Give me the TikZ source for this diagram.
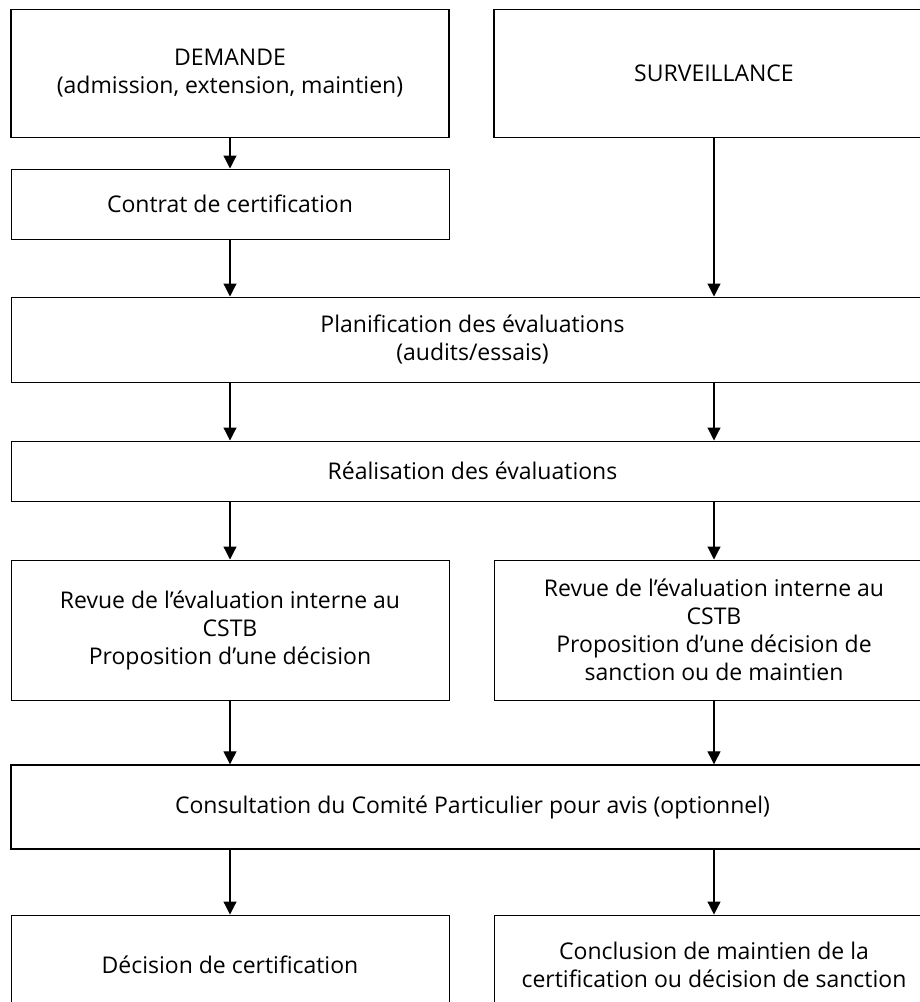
\documentclass[tikz,border=0pt]{standalone}
\usepackage{fontspec}
\setmainfont{Open Sans}
\usetikzlibrary{arrows.meta}
\begin{document}
\begin{tikzpicture}[x=1pt,y=-1pt,
  box/.style={draw, line width=1pt, rectangle, align=center, inner sep=0pt,
    font=\fontsize{23}{28}\selectfont},
  topbox/.style={box, line width=1.4pt},
  arr/.style={-{Triangle[width=13pt,length=13pt]}, line width=1.2pt}]
\useasboundingbox (0,0) rectangle (920,1002);
\clip (0,0) rectangle (920,1002);
\node[topbox, minimum width=438pt, minimum height=128pt] (dem) at (230,73.2) {DEMANDE\\(admission, extension, maintien)};
\node[topbox, minimum width=440pt, minimum height=128pt] (surv) at (714,73.2) {SURVEILLANCE};
\node[box, minimum width=438pt, minimum height=70pt] (contrat) at (230,204) {Contrat de certification};
\node[box, minimum width=923pt, minimum height=85pt] (planif) at (472.5,339.5) {Planification des évaluations\\(audits/essais)};
\node[box, minimum width=923pt, minimum height=60pt] (real) at (472.5,471) {Réalisation des évaluations};
\node[box, minimum width=438pt, minimum height=140pt] (revl) at (230,630) {Revue de l’évaluation interne au\\CSTB\\Proposition d’une décision};
\node[box, minimum width=440pt, minimum height=140pt] (revr) at (714,630) {Revue de l’évaluation interne au\\CSTB\\Proposition d’une décision de\\sanction ou de maintien};
\node[topbox, minimum width=923pt, minimum height=84pt] (cons) at (472.5,807) {Consultation du Comité Particulier pour avis (optionnel)};
\node[box, minimum width=438pt, minimum height=100pt] (decl) at (230,965) {Décision de certification};
\node[box, minimum width=440pt, minimum height=100pt] (decr) at (714,965) {Conclusion de maintien de la\\certification ou décision de sanction};
\draw[arr] (dem.south) -- (contrat.north);
\draw[arr] (contrat.south) -- (planif.north -| contrat.south);
\draw[arr] (surv.south) -- (planif.north -| surv.south);
\draw[arr] (planif.south -| revl.north) -- (real.north -| revl.north);
\draw[arr] (planif.south -| revr.north) -- (real.north -| revr.north);
\draw[arr] (real.south -| revl.north) -- (revl.north);
\draw[arr] (real.south -| revr.north) -- (revr.north);
\draw[arr] (revl.south) -- (cons.north -| revl.south);
\draw[arr] (revr.south) -- (cons.north -| revr.south);
\draw[arr] (cons.south -| decl.north) -- (decl.north);
\draw[arr] (cons.south -| decr.north) -- (decr.north);
\end{tikzpicture}
\end{document}
